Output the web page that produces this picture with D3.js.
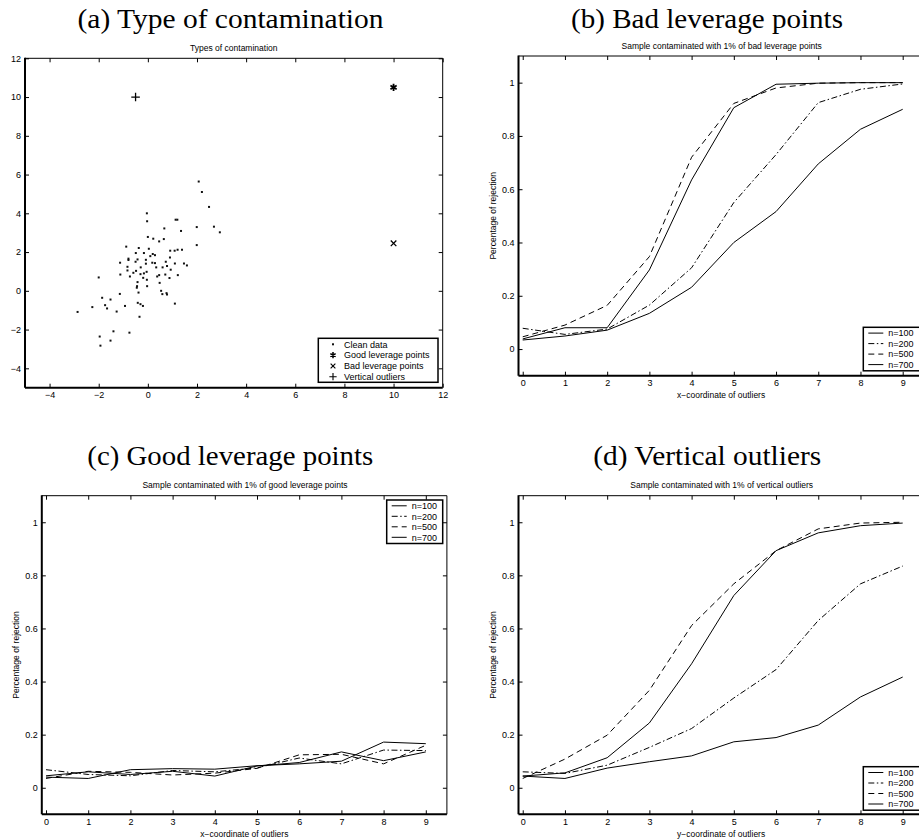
<!DOCTYPE html>
<html>
<head>
<meta charset="utf-8">
<title>contamination</title>
<script src="https://cdn.jsdelivr.net/npm/d3@7"></script>
<style>
  body { margin: 0; background: #fff; }
  text { font-family: "Liberation Sans", Arial, sans-serif; fill: #000; }
  .ttl { font-family: "Liberation Serif", "DejaVu Serif", serif; font-size: 26.5px; }
</style>
</head>
<body>
<script>
// (a) clean data
const cleanX = [2.07, 2.20, 2.49, -0.04, -0.03, 1.13, 1.20, 0.67, 1.99, 2.69, 2.93, 1.35, 0.00, 0.22, 0.65, 0.46,
  -0.88, -0.37, 0.04, 1.99, 0.91, 1.09, 1.21, 1.39, -0.49, -0.16, 0.20, 0.29, 0.10, -0.79, -0.79, -0.42, -0.08,
  0.90, 0.73, -1.13, -0.50, 0.18, 0.29, -0.08, 1.47, 1.59, 1.10, -0.83, -0.29, 0.34, 0.60, 0.78, -0.83, -0.48,
  0.93, -0.59, -0.30, -0.16, -0.05, -1.12, -0.73, 0.38, 0.46, 0.71, 1.22, 0.88, -0.19, -0.04, -2.00, -0.42, 0.48,
  -0.44, -0.45, -0.03, 0.54, 0.59, 0.76, 0.78, -1.14, -0.38, -1.86, -1.52, 1.10, -0.41, -0.30, -0.20, -0.93,
  -1.74, -1.66, -2.26, -2.86, -1.27, -0.34, -1.40, -0.75, -1.96, -1.52, -1.93];
const cleanY = [5.64, 5.10, 4.33, 4.00, 3.59, 3.67, 3.67, 3.22, 3.29, 3.31, 3.02, 3.09, 2.78, 2.69, 2.67, 2.55,
  2.28, 2.21, 2.17, 2.36, 2.07, 2.07, 2.12, 2.12, 1.95, 1.95, 1.90, 1.84, 1.79, 1.66, 1.59, 1.62, 1.60,
  1.72, 1.50, 1.45, 1.50, 1.45, 1.43, 1.40, 1.41, 1.31, 1.41, 1.24, 1.21, 1.21, 1.21, 1.28, 1.05, 1.03,
  1.09, 0.93, 0.86, 0.90, 0.98, 0.84, 0.74, 0.74, 0.81, 0.84, 0.81, 0.66, 0.67, 0.57, 0.69, 0.45, 0.41,
  0.24, 0.16, 0.24, 0.00, -0.17, -0.12, -0.19, -0.16, -0.09, -0.36, -0.45, -0.66, -0.62, -0.69, -0.78, -0.78,
  -0.74, -0.91, -0.84, -1.09, -1.07, -1.34, -2.09, -2.16, -2.36, -2.57, -2.83];
const goodLevX = [10], goodLevY = [10.5];
const badLevX = [10], badLevY = [2.45];
const vertOutX = [-0.5], vertOutY = [10];
const scatterLabels = ["Clean data", "Good leverage points", "Bad leverage points", "Vertical outliers"];
const scatterTicks = [-4, -2, 0, 2, 4, 6, 8, 10, 12];

// (b)-(d) rejection rates
const outlierPos = [0, 1, 2, 3, 4, 5, 6, 7, 8, 9];
const sizeLabels = ["n=100", "n=200", "n=500", "n=700"];
const rateTicks = [0, 0.2, 0.4, 0.6, 0.8, 1];

const badN100 = [0.034, 0.049, 0.071, 0.134, 0.232, 0.400, 0.516, 0.695, 0.825, 0.900];
const badN200 = [0.078, 0.055, 0.075, 0.165, 0.305, 0.550, 0.730, 0.925, 0.975, 0.995];
const badN500 = [0.046, 0.090, 0.164, 0.347, 0.720, 0.922, 0.980, 0.998, 1.000, 1.000];
const badN700 = [0.038, 0.080, 0.080, 0.297, 0.635, 0.906, 0.994, 0.998, 1.000, 1.000];

const goodN100 = [0.040, 0.035, 0.068, 0.072, 0.070, 0.083, 0.090, 0.100, 0.172, 0.166];
const goodN200 = [0.068, 0.050, 0.045, 0.065, 0.060, 0.075, 0.112, 0.090, 0.142, 0.140];
const goodN500 = [0.035, 0.062, 0.058, 0.048, 0.055, 0.073, 0.124, 0.126, 0.090, 0.160];
const goodN700 = [0.045, 0.060, 0.050, 0.062, 0.044, 0.082, 0.095, 0.135, 0.102, 0.135];

const vertN100 = [0.044, 0.035, 0.074, 0.098, 0.120, 0.173, 0.189, 0.236, 0.342, 0.417];
const vertN200 = [0.060, 0.054, 0.085, 0.152, 0.223, 0.338, 0.445, 0.630, 0.768, 0.835];
const vertN500 = [0.035, 0.108, 0.198, 0.367, 0.611, 0.768, 0.893, 0.975, 0.997, 1.000];
const vertN700 = [0.044, 0.056, 0.113, 0.244, 0.467, 0.724, 0.893, 0.960, 0.987, 0.997];

const dashes = [null, "6,2.5,1.5,2.5", "6,4", null];

const svg = d3.select("body").append("svg")
  .attr("width", 919)
  .attr("height", 840);

const minus = d => d < 0 ? "\u2212" + (-d) : String(+d.toFixed(1));

// frame, inward ticks on all four sides
function frame(g, x, y, xt, yt) {
  const [l, r] = x.range();
  const [b, t] = y.range();
  const ax = (a, tr) => g.append("g").attr("transform", tr).call(a)
    .call(s => s.select(".domain").remove())
    .call(s => s.selectAll("text").style("font-size", "9px").attr("fill", "#000"))
    .call(s => s.selectAll("line").attr("stroke", "#000"));
  ax(d3.axisBottom(x).tickValues(xt).tickSize(-4).tickPadding(4).tickFormat(minus), `translate(0,${b})`);
  ax(d3.axisTop(x).tickValues(xt).tickSize(-4).tickFormat(""), `translate(0,${t})`);
  ax(d3.axisLeft(y).tickValues(yt).tickSize(-4).tickPadding(4).tickFormat(minus), `translate(${l},0)`);
  ax(d3.axisRight(y).tickValues(yt).tickSize(-4).tickFormat(""), `translate(${r},0)`);
  g.append("line").attr("x1", l).attr("x2", r).attr("y1", t).attr("y2", t).attr("stroke", "#000");
  g.append("line").attr("x1", r).attr("x2", r).attr("y1", t).attr("y2", b).attr("stroke", "#000");
  g.append("line").attr("x1", l).attr("x2", r).attr("y1", b).attr("y2", b).attr("stroke", "#000").attr("stroke-width", 2);
  g.append("line").attr("x1", l).attr("x2", l).attr("y1", t - 0.5).attr("y2", b).attr("stroke", "#000").attr("stroke-width", 2);
}

function titles(g, p) {
  g.append("text").attr("class", "ttl").attr("x", p.tx).attr("y", p.ty)
    .attr("text-anchor", "middle").attr("textLength", p.tw).attr("lengthAdjust", "spacingAndGlyphs")
    .text(p.title);
  g.append("text").attr("x", p.sx).attr("y", p.sy).attr("text-anchor", "middle")
    .style("font-size", "8.5px").text(p.sub);
}

// ---- (a) scatter
{
  const g = svg.append("g");
  const x = d3.scaleLinear().domain([-5, 12]).range([25, 442.7]);
  const y = d3.scaleLinear().domain([-5, 12]).range([387.7, 58.3]);
  titles(g, { title: "(a) Type of contamination", tx: 230.5, ty: 27.7, tw: 306,
    sub: "Types of contamination", sx: 233.8, sy: 50.5 });

  g.selectAll(".clean").data(d3.range(cleanX.length)).enter().append("rect")
    .attr("x", i => x(cleanX[i]) - 1).attr("y", i => y(cleanY[i]) - 1)
    .attr("width", 2).attr("height", 2).attr("fill", "#111");

  const sym = (type, size) => d3.symbol().type(type).size(size)();
  const marks = [
    { xs: goodLevX, ys: goodLevY, path: sym(d3.symbolAsterisk, 36), w: 1.8 },
    { xs: badLevX, ys: badLevY, path: sym(d3.symbolTimes, 22), w: 1.3 },
    { xs: vertOutX, ys: vertOutY, path: sym(d3.symbolPlus, 26), w: 1.3 }
  ];
  marks.forEach(m => {
    g.selectAll(null).data(d3.range(m.xs.length)).enter().append("path")
      .attr("d", m.path)
      .attr("transform", i => `translate(${x(m.xs[i])},${y(m.ys[i])})`)
      .attr("fill", "none").attr("stroke", "#000").attr("stroke-width", m.w);
  });

  frame(g, x, y, scatterTicks, scatterTicks);

  const lg = g.append("g");
  lg.append("rect").attr("x", 318.3).attr("y", 338.3).attr("width", 119.7).attr("height", 44)
    .attr("fill", "#fff").attr("stroke", "#000").attr("stroke-width", 1.5);
  scatterLabels.forEach((lab, i) => {
    const cy = 344.3 + i * 10.8;
    if (i === 0) {
      lg.append("rect").attr("x", 332).attr("y", cy - 1).attr("width", 2).attr("height", 2).attr("fill", "#111");
    } else {
      lg.append("path").attr("d", marks[i - 1].path).attr("transform", `translate(333,${cy}) scale(0.85)`)
        .attr("fill", "none").attr("stroke", "#000").attr("stroke-width", marks[i - 1].w);
    }
    lg.append("text").attr("x", 344).attr("y", cy + 3.2).style("font-size", "9px").text(lab);
  });
}

// ---- (b)-(d) rejection curves
function ratePanel(p) {
  const g = svg.append("g");
  const x = d3.scaleLinear().domain([-0.1, 9.5]).range([p.left, p.right]);
  const y = d3.scaleLinear().domain([-0.1, 1.1]).range([p.bottom, p.top]);
  titles(g, p);

  const line = d3.line().x((d, i) => x(outlierPos[i])).y(d => y(d));
  p.series.forEach((s, k) => {
    g.append("path").datum(s).attr("d", line)
      .attr("fill", "none").attr("stroke", "#000").attr("stroke-width", 1)
      .attr("stroke-dasharray", dashes[k]);
  });

  frame(g, x, y, outlierPos, rateTicks);

  const cx = (p.left + p.right) / 2;
  g.append("text").attr("x", cx).attr("y", p.bottom + 22.5).attr("text-anchor", "middle")
    .style("font-size", "8.5px").text(p.xlab);
  g.append("text").attr("transform", `translate(${p.left - 22.5},${(p.top + p.bottom) / 2}) rotate(-90)`)
    .attr("text-anchor", "middle").style("font-size", "8.5px").text("Percentage of rejection");

  const L = p.leg;
  g.append("rect").attr("x", L.x).attr("y", L.y).attr("width", L.w).attr("height", 43.5)
    .attr("fill", "#fff").attr("stroke", "#000").attr("stroke-width", 1.5);
  sizeLabels.forEach((lab, k) => {
    const cy = L.y + 5.8 + k * 10.5;
    g.append("line").attr("x1", L.x + 5).attr("x2", L.x + 20).attr("y1", cy).attr("y2", cy)
      .attr("stroke", "#000").attr("stroke-width", 1).attr("stroke-dasharray", dashes[k]);
    g.append("text").attr("x", L.x + 25).attr("y", cy + 3.2).style("font-size", "9px").text(lab);
  });
}

ratePanel({
  left: 518.5, right: 923.8, top: 56, bottom: 375.7,
  title: "(b) Bad leverage points", tx: 707, ty: 27.7, tw: 272,
  sub: "Sample contaminated with 1% of bad leverage points", sx: 721.7, sy: 48.7,
  xlab: "x\u2212coordinate of outliers",
  series: [badN100, badN200, badN500, badN700],
  leg: { x: 863.3, y: 327.3, w: 60 }
});
ratePanel({
  left: 41.8, right: 446.9, top: 495.7, bottom: 814.3,
  title: "(c) Good leverage points", tx: 230.3, ty: 465, tw: 286,
  sub: "Sample contaminated with 1% of good leverage points", sx: 245, sy: 487.7,
  xlab: "x\u2212coordinate of outliers",
  series: [goodN100, goodN200, goodN500, goodN700],
  leg: { x: 386.7, y: 500, w: 56 }
});
ratePanel({
  left: 518.5, right: 923.8, top: 495.7, bottom: 814.3,
  title: "(d) Vertical outliers", tx: 707.2, ty: 465, tw: 228,
  sub: "Sample contaminated with 1% of vertical outliers", sx: 721.7, sy: 487.7,
  xlab: "y\u2212coordinate of outliers",
  series: [vertN100, vertN200, vertN500, vertN700],
  leg: { x: 863.3, y: 766.7, w: 60 }
});
</script>
</body>
</html>
